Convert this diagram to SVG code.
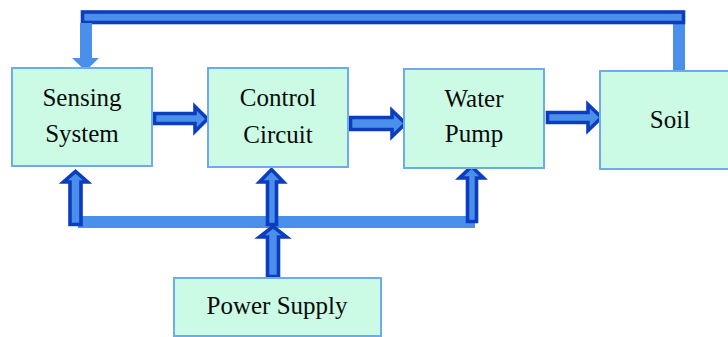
<svg xmlns="http://www.w3.org/2000/svg" width="728" height="337" viewBox="0 0 728 337">
<style>
.box{fill:#ccfbe5;stroke:#6fa9ee;stroke-width:2}
.lbl{font-family:"Liberation Serif","Times New Roman",serif;font-size:25px;fill:#0a0a0a;text-anchor:middle}
.arr{fill:#4a90ea;stroke:#0c3cbf;stroke-width:3.6;stroke-linejoin:miter}
.lt{fill:#4a90ea}
</style>
<rect width="728" height="337" fill="#ffffff"/>
<g id="connectors">
  <rect class="lt" x="673" y="20" width="12" height="52"/>
  <rect x="82.5" y="12" width="601" height="10.5" fill="#4a90ea" stroke="#0c3cbf" stroke-width="3.6"/>
  <polygon class="lt" points="80,23 92,23 92,58 99,58 85.5,71 72,58 80,58"/>
  <polygon class="arr" points="154.5,113.5 195,113.5 195,106.5 207.5,119 195,131.5 195,123.5 154.5,123.5"/>
  <polygon class="arr" points="350.5,117.5 392,117.5 392,110.5 405.5,123.5 392,136.5 392,129.5 350.5,129.5"/>
  <polygon class="arr" points="547.5,112.5 588,112.5 588,104.5 601.5,117.5 588,130.5 588,122.5 547.5,122.5"/>
  <rect class="lt" x="78" y="216" width="397" height="12"/>
  <polygon class="arr" points="70,224.5 70,182 63.5,182 75.5,171.5 87.5,182 81,182 81,224.5"/>
  <polygon class="arr" points="267.5,224.5 267.5,182 259.5,182 271.5,169.5 283.5,182 276.5,182 276.5,224.5"/>
  <polygon class="arr" points="467.5,221.5 467.5,178 459.5,178 471.5,166.5 483.5,178 476.5,178 476.5,221.5"/>
  <polygon class="arr" points="267.5,276.5 267.5,237 259.5,237 273,226.5 286.5,237 278.5,237 278.5,276.5"/>
</g>
<g id="sensing">
  <rect class="box" x="12" y="68" width="140" height="98"/>
  <text class="lbl" x="82" y="106">Sensing</text>
  <text class="lbl" x="82" y="142">System</text>
</g>
<g id="control">
  <rect class="box" x="208" y="68" width="140" height="99"/>
  <text class="lbl" x="278" y="106">Control</text>
  <text class="lbl" x="278" y="143">Circuit</text>
</g>
<g id="pump">
  <rect class="box" x="404" y="69" width="140" height="99"/>
  <text class="lbl" x="474" y="107">Water</text>
  <text class="lbl" x="474" y="142">Pump</text>
</g>
<g id="soil">
  <rect class="box" x="600" y="71" width="140" height="98"/>
  <text class="lbl" x="670" y="128">Soil</text>
</g>
<g id="power">
  <rect class="box" x="174" y="278" width="207" height="58"/>
  <text class="lbl" x="277" y="314">Power Supply</text>
</g>
</svg>
